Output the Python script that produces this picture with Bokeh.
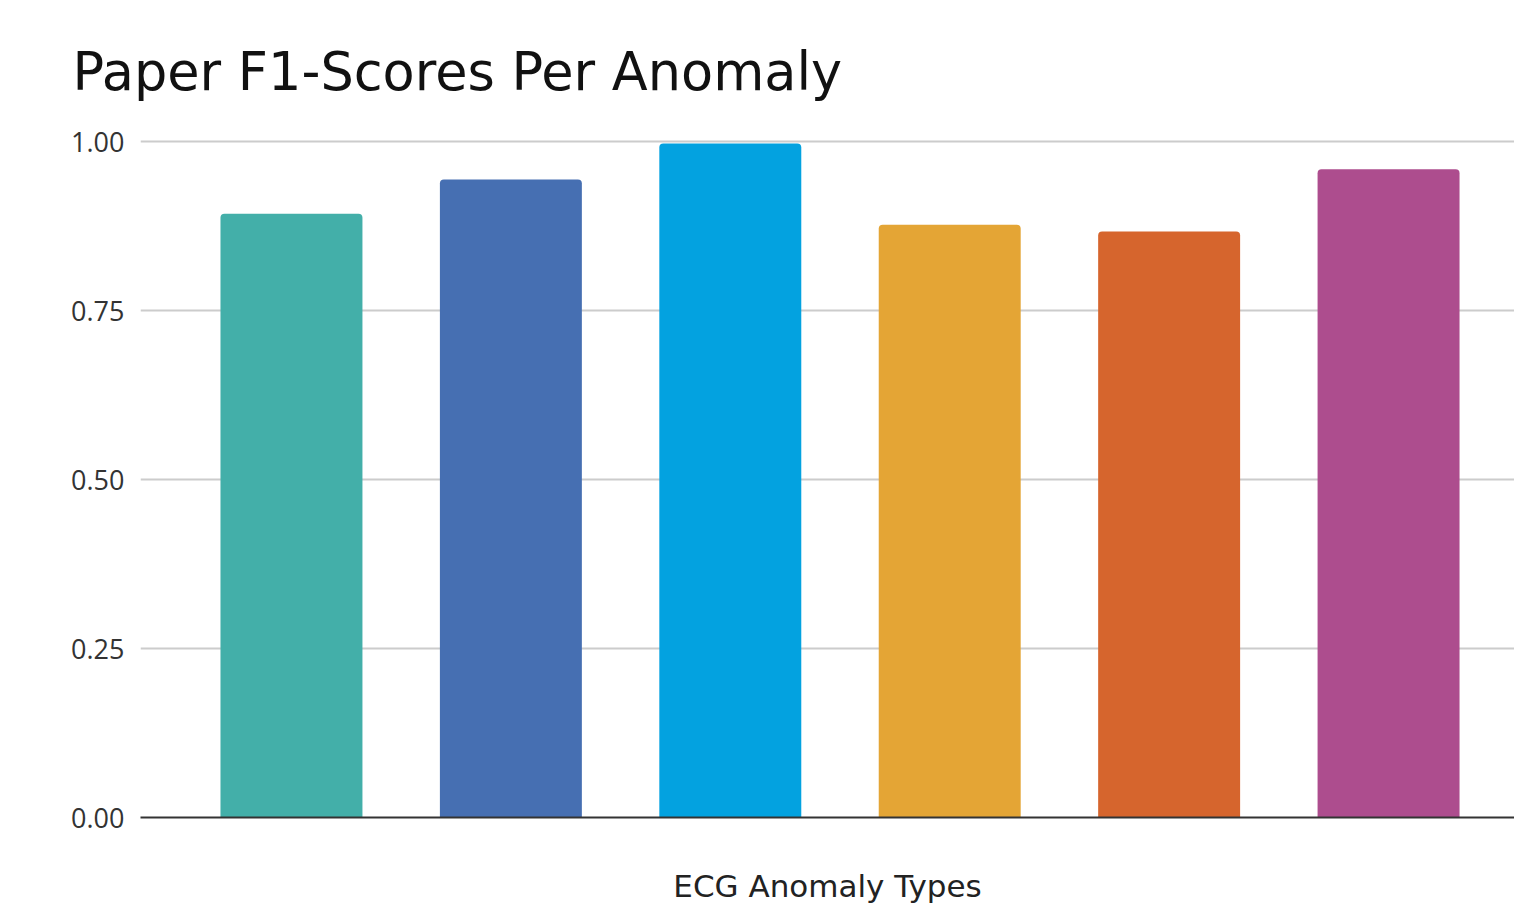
from bokeh.plotting import figure
from bokeh.models import Range1d, ColumnDataSource, FixedTicker, NumeralTickFormatter
from bokeh.embed import file_html
from bokeh.resources import INLINE

# Data
anomalies = ["Anomaly 1", "Anomaly 2", "Anomaly 3", "Anomaly 4", "Anomaly 5", "Anomaly 6"]
f1_scores = [0.893, 0.944, 0.997, 0.877, 0.867, 0.959]
bar_colors = ["#43AFA9", "#466FB2", "#03A2E0", "#E4A535", "#D6652D", "#AD4D8E"]
y_ticks = [0.0, 0.25, 0.5, 0.75, 1.0]

positions = list(range(len(anomalies)))
src = ColumnDataSource(dict(x=positions, top=f1_scores, color=bar_colors, name=anomalies))

p = figure(width=1514, height=906, output_backend="svg", toolbar_location=None,
           x_range=Range1d(-0.688, 5.574), y_range=Range1d(0, 1.003),
           min_border_left=140, min_border_right=0, min_border_top=139, min_border_bottom=89,
           title="Paper F1-Scores Per Anomaly")
p.title.text_font = "DejaVu Sans"
p.title.text_font_size = "52.5px"
p.title.text_font_style = "normal"
p.title.text_color = "#111111"
p.title.align = "left"
p.title.offset = -68
p.title.standoff = 75
p.outline_line_color = None
p.background_fill_color = "white"
p.border_fill_color = "white"

p.vbar(x="x", top="top", bottom=0, width=0.647, fill_color="color", line_color=None,
       source=src, border_radius=(4, 4, 0, 0))

# y axis
p.yaxis.ticker = FixedTicker(ticks=y_ticks)
p.yaxis.formatter = NumeralTickFormatter(format="0.00")
p.yaxis.axis_line_color = None
p.yaxis.major_tick_line_color = None
p.yaxis.minor_tick_line_color = None
p.yaxis.major_tick_out = 0
p.yaxis.major_label_standoff = 16
p.yaxis.major_label_text_font = "Open Sans"
p.yaxis.major_label_text_font_size = "27px"
p.yaxis.major_label_text_color = "#333333"

p.ygrid.ticker = FixedTicker(ticks=y_ticks)
p.ygrid.grid_line_color = "#cccccc"
p.ygrid.grid_line_width = 2
p.xgrid.grid_line_color = None

# x axis
p.xaxis.ticker = FixedTicker(ticks=[])
p.xaxis.major_label_text_font_size = "0px"
p.xaxis.major_label_standoff = 0
p.xaxis.major_tick_out = 0
p.xaxis.major_tick_line_color = None
p.xaxis.minor_tick_line_color = None
p.xaxis.axis_line_color = "#333333"
p.xaxis.axis_line_width = 2
p.xaxis.axis_label = "ECG Anomaly Types"
p.xaxis.axis_label_text_font = "DejaVu Sans"
p.xaxis.axis_label_text_font_size = "31px"
p.xaxis.axis_label_text_font_style = "normal"
p.xaxis.axis_label_text_color = "#222222"
p.xaxis.axis_label_standoff = 50

open("out.html", "w").write(file_html(p, INLINE))
